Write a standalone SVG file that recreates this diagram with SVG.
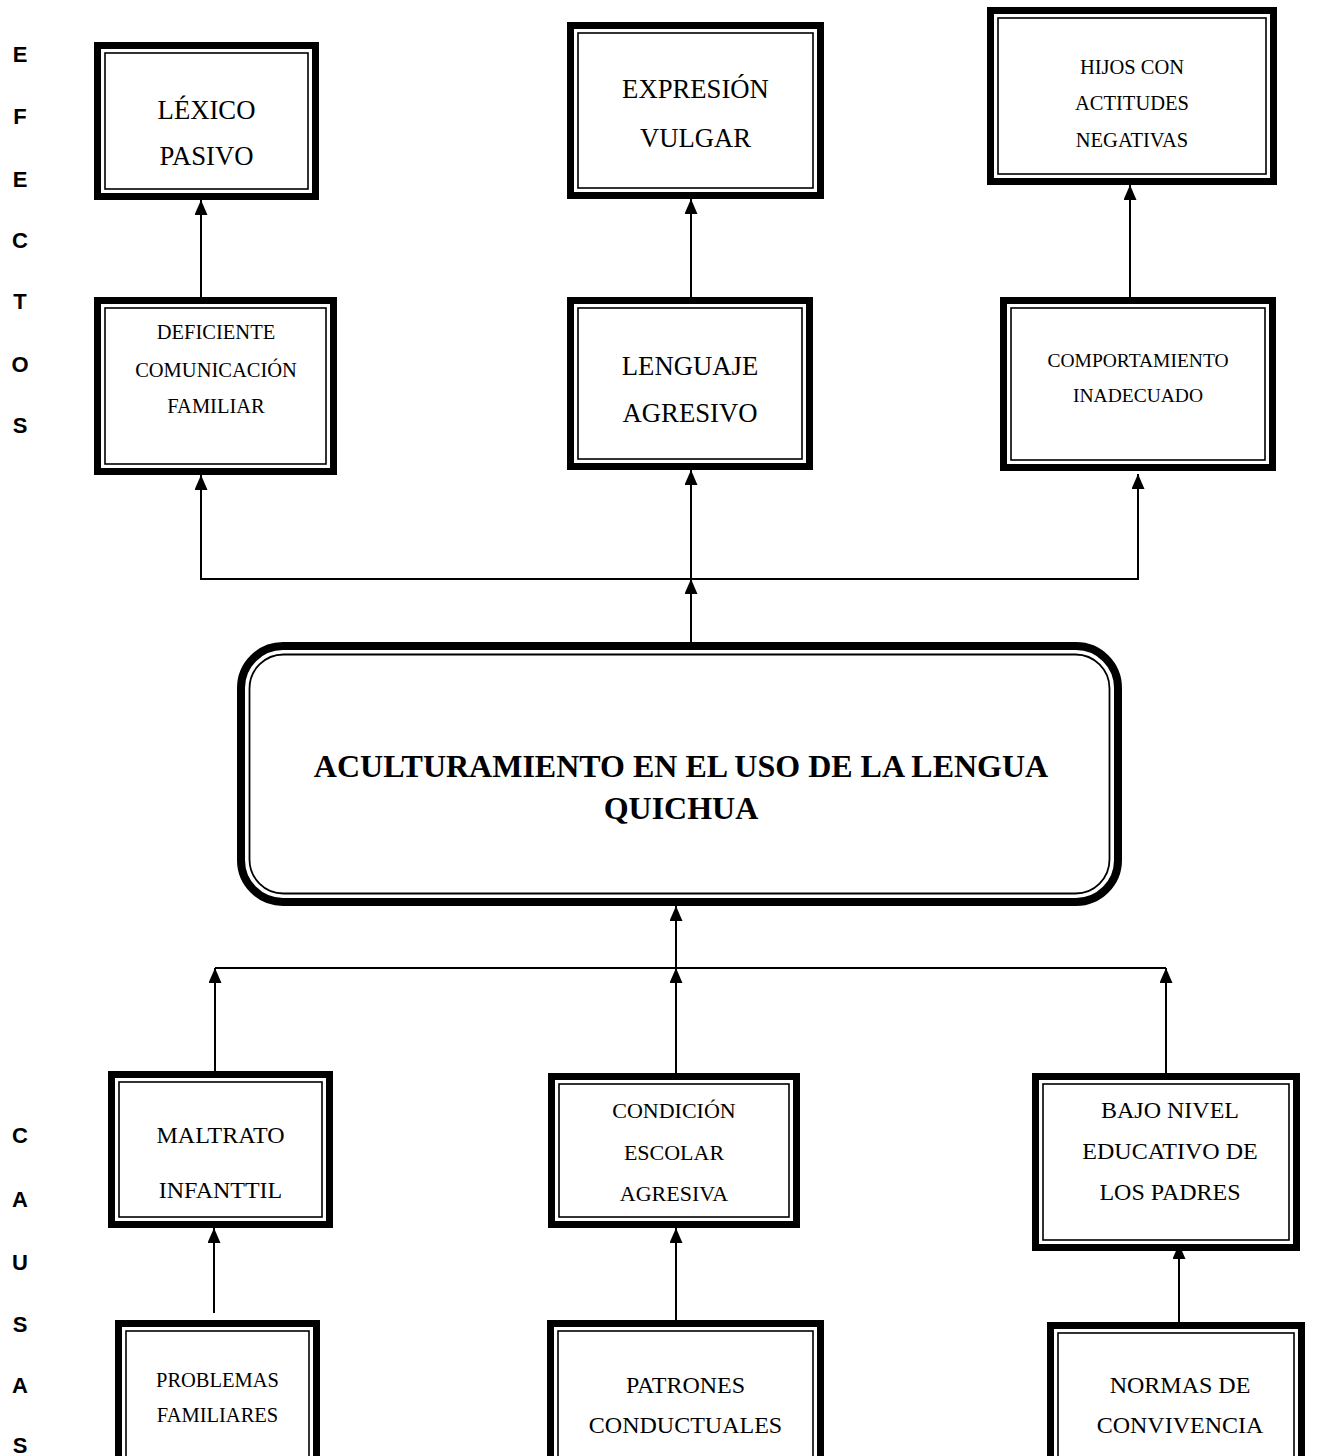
<svg xmlns="http://www.w3.org/2000/svg" width="1317" height="1456" viewBox="0 0 1317 1456">
<style>
.ob{fill:#fff;stroke:#000;stroke-width:7}
.ib{fill:none;stroke:#000;stroke-width:1.6}
.t{font-family:"Liberation Serif","Times New Roman",serif;fill:#000;text-anchor:middle}
.l{font-size:26.7px}
.m{font-size:24px}
.s{font-size:20.5px}
.ttl{font-size:32px;font-weight:bold}
.side{font-family:"Liberation Sans",Arial,sans-serif;font-weight:bold;font-size:22px;text-anchor:middle;fill:#000}
.c{fill:none;stroke:#000;stroke-width:2}
</style>
<defs>
<marker id="ah" markerUnits="userSpaceOnUse" markerWidth="15" markerHeight="13" refX="15" refY="6.5" orient="auto">
<path d="M0,0 L15,6.5 L0,13 z" fill="#000"/>
</marker>
</defs>
<rect width="1317" height="1456" fill="#fff"/>

<g id="side-efectos">
<text class="side" x="20" y="62">E</text>
<text class="side" x="20" y="124">F</text>
<text class="side" x="20" y="187">E</text>
<text class="side" x="20" y="248">C</text>
<text class="side" x="20" y="309">T</text>
<text class="side" x="20" y="372">O</text>
<text class="side" x="20" y="433">S</text>
</g>
<g id="side-causas">
<text class="side" x="20" y="1143">C</text>
<text class="side" x="20" y="1207">A</text>
<text class="side" x="20" y="1270">U</text>
<text class="side" x="20" y="1332">S</text>
<text class="side" x="20" y="1393">A</text>
<text class="side" x="20" y="1453">S</text>
</g>

<g id="connectors">
<line class="c" x1="201" y1="297" x2="201" y2="200" marker-end="url(#ah)"/>
<line class="c" x1="691" y1="297" x2="691" y2="199" marker-end="url(#ah)"/>
<line class="c" x1="1130" y1="297" x2="1130" y2="185" marker-end="url(#ah)"/>
<line class="c" x1="201" y1="579" x2="1138" y2="579"/>
<line class="c" x1="201" y1="580" x2="201" y2="475" marker-end="url(#ah)"/>
<line class="c" x1="691" y1="580" x2="691" y2="470" marker-end="url(#ah)"/>
<line class="c" x1="1138" y1="580" x2="1138" y2="474" marker-end="url(#ah)"/>
<line class="c" x1="691" y1="642" x2="691" y2="579" marker-end="url(#ah)"/>
<line class="c" x1="676" y1="968" x2="676" y2="906" marker-end="url(#ah)"/>
<line class="c" x1="215" y1="968" x2="1166" y2="968"/>
<line class="c" x1="215" y1="1071" x2="215" y2="968" marker-end="url(#ah)"/>
<line class="c" x1="676" y1="1073" x2="676" y2="968" marker-end="url(#ah)"/>
<line class="c" x1="1166" y1="1073" x2="1166" y2="968" marker-end="url(#ah)"/>
<line class="c" x1="214" y1="1313" x2="214" y2="1228" marker-end="url(#ah)"/>
<line class="c" x1="676" y1="1320" x2="676" y2="1228" marker-end="url(#ah)"/>
<line class="c" x1="1179" y1="1328" x2="1179" y2="1244" marker-end="url(#ah)"/>
</g>

<g id="n-lexico">
<rect class="ob" x="97.5" y="45.5" width="218" height="151"/>
<rect class="ib" x="105" y="53" width="203" height="136"/>
<text class="t l" x="206.5" y="119">LÉXICO</text>
<text class="t l" x="206.5" y="165">PASIVO</text>
</g>
<g id="n-expresion">
<rect class="ob" x="570.5" y="25.5" width="250" height="170"/>
<rect class="ib" x="578" y="33" width="235" height="155"/>
<text class="t l" x="695.5" y="98">EXPRESIÓN</text>
<text class="t l" x="695.5" y="147">VULGAR</text>
</g>
<g id="n-hijos">
<rect class="ob" x="990.5" y="10.5" width="283" height="171"/>
<rect class="ib" x="998" y="18" width="268" height="156"/>
<text class="t s" x="1132" y="74">HIJOS CON</text>
<text class="t s" x="1132" y="110">ACTITUDES</text>
<text class="t s" x="1132" y="147">NEGATIVAS</text>
</g>
<g id="n-deficiente">
<rect class="ob" x="97.5" y="300.5" width="236" height="171"/>
<rect class="ib" x="105" y="308" width="221" height="156"/>
<text class="t s" x="216" y="339">DEFICIENTE</text>
<text class="t s" x="216" y="377">COMUNICACIÓN</text>
<text class="t s" x="216" y="413">FAMILIAR</text>
</g>
<g id="n-lenguaje">
<rect class="ob" x="570.5" y="300.5" width="239" height="166"/>
<rect class="ib" x="578" y="308" width="224" height="151"/>
<text class="t l" x="690" y="375">LENGUAJE</text>
<text class="t l" x="690" y="422">AGRESIVO</text>
</g>
<g id="n-comportamiento">
<rect class="ob" x="1003.5" y="300.5" width="269" height="167"/>
<rect class="ib" x="1011" y="308" width="254" height="152"/>
<text class="t s" x="1138" y="367" style="font-size:19.5px">COMPORTAMIENTO</text>
<text class="t s" x="1138" y="402" style="font-size:19.5px">INADECUADO</text>
</g>

<g id="n-central">
<rect x="241" y="646" width="877" height="256" rx="42" ry="42" fill="#fff" stroke="#000" stroke-width="8"/>
<rect x="249.5" y="654.5" width="860" height="239" rx="34" ry="34" fill="none" stroke="#000" stroke-width="1.8"/>
<text class="t ttl" x="681" y="777">ACULTURAMIENTO EN EL USO DE LA LENGUA</text>
<text class="t ttl" x="681" y="819">QUICHUA</text>
</g>

<g id="n-maltrato">
<rect class="ob" x="111.5" y="1074.5" width="218" height="150"/>
<rect class="ib" x="119" y="1082" width="203" height="135"/>
<text class="t m" x="220.5" y="1143">MALTRATO</text>
<text class="t m" x="220.5" y="1198">INFANTTIL</text>
</g>
<g id="n-condicion">
<rect class="ob" x="551.5" y="1076.5" width="245" height="148"/>
<rect class="ib" x="559" y="1084" width="230" height="133"/>
<text class="t" x="674" y="1118" style="font-size:22px">CONDICIÓN</text>
<text class="t" x="674" y="1160" style="font-size:22px">ESCOLAR</text>
<text class="t" x="674" y="1201" style="font-size:22px">AGRESIVA</text>
</g>
<g id="n-bajo">
<rect class="ob" x="1035.5" y="1076.5" width="261" height="171"/>
<rect class="ib" x="1043" y="1084" width="246" height="156"/>
<text class="t m" x="1170" y="1118">BAJO NIVEL</text>
<text class="t m" x="1170" y="1159">EDUCATIVO DE</text>
<text class="t m" x="1170" y="1200">LOS PADRES</text>
</g>
<g id="n-problemas">
<rect class="ob" x="118.5" y="1323.5" width="198" height="160"/>
<rect class="ib" x="126" y="1331" width="183" height="150"/>
<text class="t s" x="217.5" y="1387">PROBLEMAS</text>
<text class="t s" x="217.5" y="1422">FAMILIARES</text>
</g>
<g id="n-patrones">
<rect class="ob" x="550.5" y="1323.5" width="270" height="160"/>
<rect class="ib" x="558" y="1331" width="255" height="150"/>
<text class="t m" x="685.5" y="1393">PATRONES</text>
<text class="t m" x="685.5" y="1433">CONDUCTUALES</text>
</g>
<g id="n-normas">
<rect class="ob" x="1050.5" y="1325.5" width="251" height="160"/>
<rect class="ib" x="1058" y="1333" width="236" height="150"/>
<text class="t m" x="1180" y="1393">NORMAS DE</text>
<text class="t m" x="1180" y="1433">CONVIVENCIA</text>
</g>
</svg>
